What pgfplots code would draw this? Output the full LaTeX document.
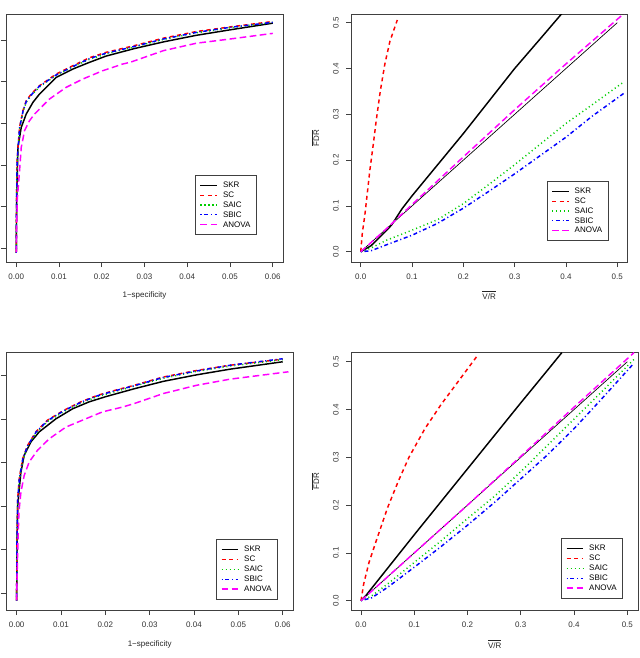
\documentclass[border=0pt]{standalone}
\usepackage{fontspec}
\setmainfont{Liberation Sans}
\usepackage{pgfplots}
\pgfplotsset{compat=1.18}
\definecolor{rred}{RGB}{255,0,0}
\definecolor{rgreen}{RGB}{0,205,0}
\definecolor{rblue}{RGB}{0,0,255}
\definecolor{rmag}{RGB}{255,0,255}
\definecolor{legframe}{RGB}{64,64,64}
\pgfplotsset{
  rstyle/.style={
    scale only axis,
    axis line style={black!75, line width=0.5pt},
    tick style={black!75, line width=0.5pt},
    tick align=outside, major tick length=3.75pt,
    tick pos=left, minor tick num=0,
    scaled x ticks=false, scaled y ticks=false,
    ticklabel style={font=\fontsize{6}{7}\selectfont, text=black!80},
    label style={font=\fontsize{6}{7}\selectfont, text=black!85},
    /pgf/number format/assume math mode=true,
    xticklabel shift=2pt, yticklabel shift=2pt,
    legend cell align=left,
    legend image code/.code={\draw[##1, line width=0.85pt] (0pt,0pt) -- (12.5pt,0pt);},
    legend style={draw=legframe, line width=0.5pt, font=\fontsize{6}{7}\selectfont,
      inner xsep=3.5pt, inner ysep=3.8pt, row sep=0pt, column sep=3pt,
      nodes={inner sep=1pt, text height=4.4pt, text depth=1pt}},
  },
  skr/.style={color=black, draw=black, line width=1.1pt, solid},
  sc/.style={color=rred, draw=rred, line width=1.1pt, dash pattern=on 3pt off 2.6pt},
  saic/.style={color=rgreen, draw=rgreen, line width=1.1pt, dash pattern=on 0.8pt off 2.2pt},
  sbic/.style={color=rblue, draw=rblue, line width=1.1pt, dash pattern=on 0.8pt off 2pt on 3pt off 2pt},
  anova/.style={color=rmag, draw=rmag, line width=1.1pt, dash pattern=on 5pt off 2.6pt},
  rocax/.style={rstyle, xmin=-0.0024, xmax=0.0624,
    xtick={0,0.01,0.02,0.03,0.04,0.05,0.06},
    xticklabel style={/pgf/number format/fixed, /pgf/number format/fixed zerofill, /pgf/number format/precision=2},
    ytick={0.4,0.5,0.6,0.7,0.8,0.9}, yticklabels={},
    xlabel={1−specificity}},
  fdrax/.style={rstyle,
    xtick={0,0.1,0.2,0.3,0.4,0.5}, ytick={0,0.1,0.2,0.3,0.4,0.5},
    ticklabel style={/pgf/number format/fixed, /pgf/number format/fixed zerofill, /pgf/number format/precision=1},
    yticklabel style={rotate=90, anchor=south},
    xlabel={$\overline{\mbox{V/R}}$},
    ylabel={$\overline{\mbox{FDR}}$}},
}
\begin{document}
\begin{tikzpicture}
\useasboundingbox (0,0) rectangle (480pt,-493.5pt);
\clip (0,0) rectangle (480pt,-493.5pt);
% ---------------- top left ----------------
\begin{axis}[rocax, at={(4.5pt,-10.5pt)}, anchor=north west, width=207.75pt, height=186pt,
  ymin=0.367, ymax=0.962,
  xlabel style={at={(axis description cs:0.5,-0.133)}, anchor=center},
  legend style={at={(0.682,0.351)}, anchor=north west}]
\addplot[skr] coordinates {(0,0.389)(0.0001,0.516)(0.0004,0.643)(0.00117,0.690)(0.00233,0.722)(0.0039,0.750)(0.00544,0.770)(0.00934,0.810)(0.01324,0.830)(0.01711,0.846)(0.021,0.861)(0.0276,0.879)(0.0344,0.895)(0.0422,0.911)(0.050,0.924)(0.060,0.940)};
\addlegendentry{SKR}
\addplot[sc] coordinates {(0,0.389)(0.00007,0.516)(0.0002,0.612)(0.00077,0.690)(0.00156,0.730)(0.00233,0.754)(0.0035,0.770)(0.00544,0.790)(0.00934,0.818)(0.01324,0.838)(0.01711,0.857)(0.021,0.870)(0.0276,0.886)(0.0344,0.904)(0.0422,0.920)(0.050,0.931)(0.060,0.944)};
\addlegendentry{SC}
\addplot[saic] coordinates {(0,0.389)(0.00007,0.510)(0.0002,0.605)(0.00077,0.685)(0.00156,0.726)(0.00233,0.750)(0.0035,0.767)(0.00544,0.787)(0.00934,0.815)(0.01324,0.835)(0.01711,0.853)(0.021,0.866)(0.0276,0.883)(0.0344,0.901)(0.0422,0.917)(0.050,0.929)(0.060,0.942)};
\addlegendentry{SAIC}
\addplot[sbic] coordinates {(0,0.389)(0.00007,0.512)(0.0002,0.608)(0.00077,0.688)(0.00156,0.728)(0.00233,0.752)(0.0035,0.768)(0.00544,0.789)(0.00934,0.816)(0.01324,0.836)(0.01711,0.855)(0.021,0.868)(0.0276,0.884)(0.0344,0.902)(0.0422,0.918)(0.050,0.930)(0.060,0.942)};
\addlegendentry{SBIC}
\addplot[anova] coordinates {(0,0.390)(0.00023,0.516)(0.00077,0.586)(0.00117,0.642)(0.00194,0.682)(0.0031,0.706)(0.00427,0.722)(0.00777,0.758)(0.01167,0.786)(0.01557,0.806)(0.02024,0.826)(0.02491,0.842)(0.02662,0.846)(0.03439,0.874)(0.04219,0.892)(0.050,0.902)(0.060,0.9155)};
\addlegendentry{ANOVA}
\end{axis}
% ---------------- top right ----------------
\begin{axis}[fdrax, at={(263.25pt,-10.5pt)}, anchor=north west, width=207.2pt, height=186pt,
  xmin=-0.019, xmax=0.5195, ymin=-0.0225, ymax=0.519,
  xlabel style={at={(axis description cs:0.5,-0.133)}, anchor=center},
  ylabel style={at={(axis description cs:-0.130,0.5)}, anchor=center},
  legend style={at={(0.708,0.327)}, anchor=north west}]
\addplot[black, line width=0.5pt, forget plot] coordinates {(0,0)(0.5,0.5)};
\addplot[skr] coordinates {(0,0)(0.02,0.013)(0.04,0.035)(0.06,0.058)(0.08,0.093)(0.10,0.122)(0.15,0.190)(0.20,0.258)(0.25,0.329)(0.30,0.400)(0.35,0.465)(0.392,0.520)};
\addlegendentry{SKR}
\addplot[sc] coordinates {(0,0)(0.003,0.040)(0.008,0.080)(0.0125,0.125)(0.018,0.180)(0.0245,0.235)(0.030,0.285)(0.038,0.350)(0.047,0.410)(0.057,0.460)(0.0713,0.506)};
\addlegendentry{SC}
\addplot[saic] coordinates {(0,0)(0.02,0.008)(0.05,0.025)(0.10,0.047)(0.15,0.070)(0.20,0.105)(0.25,0.147)(0.30,0.190)(0.35,0.235)(0.40,0.280)(0.45,0.320)(0.513,0.371)};
\addlegendentry{SAIC}
\addplot[sbic] coordinates {(0,0)(0.02,0.002)(0.05,0.015)(0.10,0.036)(0.15,0.062)(0.20,0.095)(0.25,0.132)(0.30,0.170)(0.35,0.210)(0.40,0.250)(0.45,0.295)(0.513,0.346)};
\addlegendentry{SBIC}
\addplot[anova] coordinates {(0,0)(0.05,0.050)(0.10,0.103)(0.20,0.207)(0.30,0.310)(0.40,0.410)(0.513,0.520)};
\addlegendentry{ANOVA}
\end{axis}
% ---------------- bottom left ----------------
\begin{axis}[rocax, at={(4.5pt,-264.5pt)}, anchor=north west, width=215.5pt, height=193pt,
  ymin=0.3616, ymax=0.9529,
  xlabel style={at={(axis description cs:0.5,-0.132)}, anchor=center},
  legend style={at={(0.731,0.275)}, anchor=north west}]
\addplot[skr] coordinates {(0,0.383)(0.0001,0.520)(0.00023,0.600)(0.00045,0.625)(0.00097,0.679)(0.00171,0.717)(0.00323,0.748)(0.0051,0.771)(0.00887,0.801)(0.01263,0.824)(0.01638,0.840)(0.02014,0.852)(0.02653,0.870)(0.03307,0.887)(0.0406,0.902)(0.04812,0.915)(0.060,0.932)};
\addlegendentry{SKR}
\addplot[sc] coordinates {(0,0.383)(0.00007,0.520)(0.00025,0.620)(0.00059,0.663)(0.00135,0.709)(0.00248,0.740)(0.00435,0.771)(0.00699,0.798)(0.01074,0.821)(0.0145,0.840)(0.01827,0.855)(0.0224,0.867)(0.02653,0.878)(0.03307,0.897)(0.0406,0.912)(0.04812,0.924)(0.060,0.938)};
\addlegendentry{SC}
\addplot[saic] coordinates {(0,0.383)(0.00007,0.515)(0.00025,0.614)(0.00059,0.659)(0.00135,0.705)(0.00248,0.737)(0.00435,0.768)(0.00699,0.795)(0.01074,0.818)(0.0145,0.837)(0.01827,0.852)(0.0224,0.864)(0.02653,0.876)(0.03307,0.894)(0.0406,0.910)(0.04812,0.922)(0.060,0.937)};
\addlegendentry{SAIC}
\addplot[sbic] coordinates {(0,0.383)(0.00007,0.517)(0.00025,0.617)(0.00059,0.661)(0.00135,0.707)(0.00248,0.739)(0.00435,0.770)(0.00699,0.797)(0.01074,0.820)(0.0145,0.839)(0.01827,0.854)(0.0224,0.866)(0.02653,0.877)(0.03307,0.896)(0.0406,0.911)(0.04812,0.924)(0.060,0.939)};
\addlegendentry{SBIC}
\addplot[anova] coordinates {(0,0.384)(0.00018,0.4765)(0.00052,0.587)(0.00097,0.633)(0.00171,0.671)(0.00284,0.702)(0.00474,0.729)(0.00735,0.755)(0.01112,0.782)(0.01489,0.798)(0.0194,0.817)(0.02391,0.828)(0.02653,0.836)(0.03307,0.859)(0.0406,0.878)(0.04812,0.892)(0.0613,0.909)};
\addlegendentry{ANOVA}
\end{axis}
% ---------------- bottom right ----------------
\begin{axis}[fdrax, at={(263.25pt,-264.5pt)}, anchor=north west, width=215.5pt, height=193pt,
  xmin=-0.0188, xmax=0.5207, ymin=-0.0195, ymax=0.519,
  xlabel style={at={(axis description cs:0.5,-0.132)}, anchor=center},
  ylabel style={at={(axis description cs:-0.125,0.5)}, anchor=center},
  legend style={at={(0.731,0.279)}, anchor=north west}]
\addplot[black, line width=0.5pt, forget plot] coordinates {(0,0)(0.5,0.5)};
\addplot[skr] coordinates {(0,0)(0.01,0.012)(0.05,0.068)(0.10,0.138)(0.15,0.207)(0.20,0.276)(0.25,0.345)(0.30,0.414)(0.35,0.482)(0.377,0.519)};
\addlegendentry{SKR}
\addplot[sc] coordinates {(0,0)(0.005,0.035)(0.015,0.080)(0.030,0.130)(0.050,0.195)(0.070,0.250)(0.090,0.300)(0.120,0.360)(0.150,0.410)(0.180,0.455)(0.220,0.515)};
\addlegendentry{SC}
\addplot[saic] coordinates {(0,0)(0.02,0.010)(0.05,0.035)(0.10,0.080)(0.15,0.125)(0.20,0.172)(0.25,0.218)(0.30,0.270)(0.35,0.325)(0.40,0.380)(0.45,0.435)(0.5125,0.505)};
\addlegendentry{SAIC}
\addplot[sbic] coordinates {(0,0)(0.02,0.006)(0.05,0.028)(0.10,0.070)(0.15,0.113)(0.20,0.158)(0.25,0.205)(0.30,0.255)(0.35,0.305)(0.40,0.360)(0.45,0.420)(0.5125,0.497)};
\addlegendentry{SBIC}
\addplot[anova] coordinates {(0,0)(0.10,0.100)(0.20,0.200)(0.30,0.302)(0.40,0.405)(0.5125,0.519)};
\addlegendentry{ANOVA}
\end{axis}
\end{tikzpicture}
\end{document}
